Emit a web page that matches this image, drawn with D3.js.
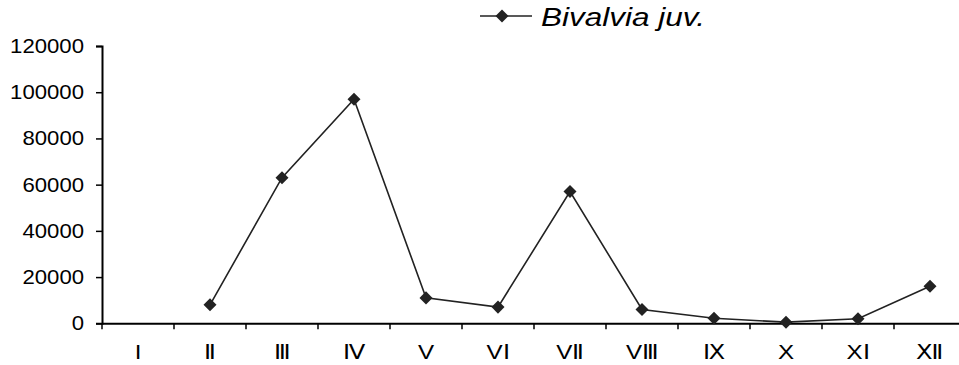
<!DOCTYPE html>
<html>
<head>
<meta charset="utf-8">
<script src="https://cdn.jsdelivr.net/npm/d3@7"></script>
<style>
  html, body { margin: 0; padding: 0; background: #fff; }
  svg { display: block; font-family: "Liberation Sans", Arial, sans-serif; }
</style>
</head>
<body>
<svg id="chart" width="959" height="365"></svg>
<script>
const categories = ["I", "Ⅱ", "Ⅲ", "Ⅳ", "V", "VⅠ", "VⅡ", "VⅢ", "Ⅸ", "X", "XⅠ", "Ⅻ"];
const values = [null, 8000, 63000, 97000, 11000, 7000, 57000, 6000, 2200, 500, 2000, 16000];
const yTicks = [0, 20000, 40000, 60000, 80000, 100000, 120000];
const seriesName = "Bivalvia juv.";

const svg = d3.select("#chart");
const x = d3.scaleBand().domain(categories).range([102, 966]).padding(0);
const y = d3.scaleLinear().domain([0, 120000]).range([323.3, 46]);
const ink = "#222";

function stretch(sel, k) {
  sel.each(function () {
    const w = this.getComputedTextLength();
    d3.select(this).attr("textLength", w * k).attr("lengthAdjust", "spacingAndGlyphs");
  });
}

// Y axis
const yAxis = svg.append("g").attr("transform", "translate(102,0)")
  .call(d3.axisLeft(y).tickValues(yTicks).tickFormat(d3.format("d")).tickSize(6).tickPadding(12));
yAxis.select(".domain").attr("stroke", "#000").attr("stroke-width", 2);
yAxis.selectAll(".tick line").attr("stroke", "#000").attr("stroke-width", 1.5);
yAxis.selectAll(".tick text").attr("font-size", 20.5).attr("fill", "#000")
  .attr("font-family", "'Liberation Sans', Arial, sans-serif");
stretch(yAxis.selectAll(".tick text"), 1.08);

// X axis (ticks at category boundaries)
const xAxis = svg.append("g").attr("transform", `translate(0,${y(0)})`)
  .call(d3.axisBottom(x).tickSize(0).tickPadding(21));
xAxis.select(".domain").attr("stroke", "#000").attr("stroke-width", 2);
xAxis.selectAll(".tick text").attr("font-size", 21).attr("fill", "#000")
  .attr("font-family", "'Liberation Sans', Arial, sans-serif");
stretch(xAxis.selectAll(".tick text"), 1.15);
svg.append("g").selectAll("line.bt").data(categories).join("line")
  .attr("x1", d => x(d)).attr("x2", d => x(d))
  .attr("y1", y(0)).attr("y2", y(0) + 6)
  .attr("stroke", "#000").attr("stroke-width", 1.5);

// Line
const pts = categories.map((c, i) => ({ c, v: values[i] }));
const line = d3.line().defined(d => d.v != null)
  .x(d => x(d.c) + x.bandwidth() / 2).y(d => y(d.v));
svg.append("path").datum(pts).attr("d", line)
  .attr("fill", "none").attr("stroke", ink).attr("stroke-width", 1.6);

const diamond = d3.symbol().type(d3.symbolSquare).size(85);
svg.append("g").selectAll("path").data(pts.filter(d => d.v != null)).join("path")
  .attr("d", diamond)
  .attr("transform", d => `translate(${x(d.c) + x.bandwidth() / 2},${y(d.v)}) rotate(45)`)
  .attr("fill", ink);

// Legend
const lg = svg.append("g");
lg.append("line").attr("x1", 480).attr("x2", 532).attr("y1", 16).attr("y2", 16)
  .attr("stroke", ink).attr("stroke-width", 1.6);
lg.append("path").attr("d", diamond).attr("transform", "translate(502,16) rotate(45)").attr("fill", ink);
lg.append("text").attr("x", 541).attr("y", 26).text(seriesName)
  .attr("font-size", 25).attr("font-style", "italic").attr("fill", "#000")
  .attr("textLength", 164).attr("lengthAdjust", "spacingAndGlyphs");
</script>
</body>
</html>
